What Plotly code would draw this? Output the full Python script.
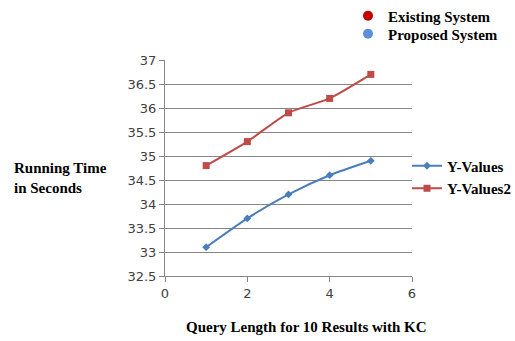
import plotly.graph_objects as go

x_vals = [1, 2, 3, 4, 5]
y_values = [33.1, 33.7, 34.2, 34.6, 34.9]
y_values2 = [34.8, 35.3, 35.9, 36.2, 36.7]
x_ticks = [0, 2, 4, 6]
y_ticks = [32.5, 33, 33.5, 34, 34.5, 35, 35.5, 36, 36.5, 37]

SERIF = "Liberation Serif"
TICKFONT = dict(family="DejaVu Sans", size=13, color="#404040")
LEGFONT = dict(family=SERIF, size=15, color="black", weight="bold")

fig = go.Figure()
fig.add_trace(go.Scatter(
    x=x_vals, y=y_values, name="Y-Values", mode="lines+markers",
    line=dict(color="#4A7EBB", width=2, shape="spline", smoothing=0.6),
    marker=dict(symbol="diamond", size=6, color="#4A7EBB"),
    legend="legend",
))
fig.add_trace(go.Scatter(
    x=x_vals, y=y_values2, name="Y-Values2", mode="lines+markers",
    line=dict(color="#BE4B48", width=2, shape="spline", smoothing=0.6),
    marker=dict(symbol="square", size=7, color="#BE4B48"),
    legend="legend",
))
# top legend entries
fig.add_trace(go.Scatter(
    x=[None], y=[None], name="Existing System", mode="markers",
    marker=dict(symbol="circle", size=10, color="#C00000"),
    legend="legend2",
))
fig.add_trace(go.Scatter(
    x=[None], y=[None], name="Proposed System", mode="markers",
    marker=dict(symbol="circle", size=10, color="#5B8FD9"),
    legend="legend3",
))

fig.update_layout(
    width=515, height=341,
    margin=dict(l=165, r=103, t=60, b=65, autoexpand=False),
    paper_bgcolor="white", plot_bgcolor="white",
    showlegend=True,
    legend=dict(
        xref="container", yref="container",
        x=407 / 515, y=1 - 177 / 341, xanchor="left", yanchor="middle",
        font=LEGFONT, bgcolor="rgba(0,0,0,0)", itemwidth=30, tracegroupgap=0,
    ),
    legend2=dict(
        xref="container", yref="container",
        x=348 / 515, y=1 - 16 / 341, xanchor="left", yanchor="middle",
        font=LEGFONT, bgcolor="rgba(0,0,0,0)", itemwidth=30,
    ),
    legend3=dict(
        xref="container", yref="container",
        x=348 / 515, y=1 - 34 / 341, xanchor="left", yanchor="middle",
        font=LEGFONT, bgcolor="rgba(0,0,0,0)", itemwidth=30,
    ),
    xaxis=dict(
        range=[0, 6], tickvals=x_ticks, ticktext=[str(t) for t in x_ticks],
        showgrid=False, zeroline=False,
        showline=True, linecolor="#868686", linewidth=1,
        ticks="outside", ticklen=5, tickcolor="#868686",
        tickfont=TICKFONT,
    ),
    yaxis=dict(
        range=[32.5, 37], tickvals=y_ticks, ticktext=[f"{t:g}" for t in y_ticks],
        showgrid=True, gridcolor="#868686", gridwidth=1, zeroline=False,
        showline=True, linecolor="#868686", linewidth=1,
        ticks="outside", ticklen=5, tickcolor="#868686",
        tickfont=TICKFONT,
    ),
    annotations=[
        dict(
            text="Running Time<br>in Seconds", xref="paper", yref="paper",
            x=-153 / 247, y=(276 - 178) / 216, xanchor="left", yanchor="middle",
            align="left", showarrow=False, font=LEGFONT,
        ),
        dict(
            text="Query Length for 10 Results with KC", xref="paper", yref="paper",
            x=(306 - 165) / 247, y=-(327 - 276) / 216, xanchor="center", yanchor="middle",
            showarrow=False, font=LEGFONT,
        ),
    ],
)

fig.write_html("out.html")
